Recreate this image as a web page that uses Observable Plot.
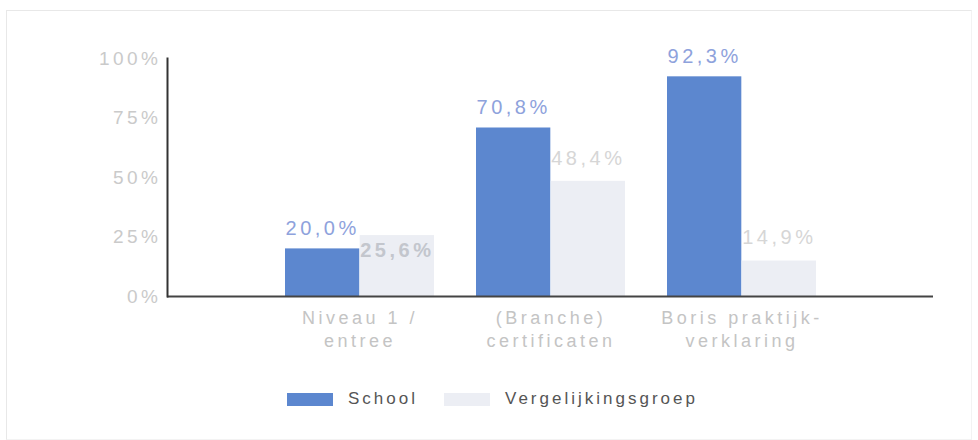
<!DOCTYPE html>
<html><head><meta charset="utf-8">
<script src="https://cdn.jsdelivr.net/npm/d3@7"></script>
<script src="https://cdn.jsdelivr.net/npm/@observablehq/plot@0.6"></script>
<style>
body{margin:0;background:#fff;font-family:"Liberation Sans",Arial,sans-serif;}
#wrap{position:relative;width:978px;height:440px;overflow:hidden;}
#border{position:absolute;left:6px;top:10px;width:964px;height:428px;border:1px solid #e8e8e8;border-right-color:#f3f3f3;border-bottom-color:#f3f3f3;}
#chart{position:absolute;left:0;top:0;}
#legend{position:absolute;left:287px;top:389px;display:flex;align-items:center;font-size:17px;letter-spacing:3px;color:#555;}
#legend .sw{width:46px;height:13px;display:inline-block;margin-right:15px;}
#legend .item{display:flex;align-items:center;margin-right:26px;}
svg text{letter-spacing:3.5px;}
</style></head><body>
<div id="wrap"><div id="border"></div><div id="chart"></div><div id="legend"></div></div>
<script>
const categories = ["Niveau 1 / entree", "(Branche) certificaten", "Boris praktijkverklaring"];
const tickLabels = ["Niveau 1 /\nentree", "(Branche)\ncertificaten", "Boris praktijk-\nverklaring"];
const series = ["School", "Vergelijkingsgroep"];
const schoolValues = [20.0, 70.8, 92.3];
const compareValues = [25.6, 48.4, 14.9];
const yTicks = [0, 25, 50, 75, 100];
const colors = ["#5c87cf", "#eceef4"];

const W = 978, H = 370, mL = 167, mR = 45, mT = 58, mB = 74;
const xOpts = {type: "band", domain: categories, paddingInner: 0.22, paddingOuter: 0.61};
const bw = Plot.scale({x: {...xOpts, range: [mL, W - mR]}}).bandwidth;

const schoolRows = categories.map((c, i) => ({category: c, series: series[0], value: schoolValues[i]}));
const compareRows = categories.map((c, i) => ({category: c, series: series[1], value: compareValues[i], other: schoolValues[i]}));
const fmt = v => v.toFixed(1).replace(".", ",") + "%";
const collides = d => d.value > d.other && d.value - d.other < 10;

const chart = Plot.plot({
  width: W, height: H, marginLeft: mL, marginRight: mR, marginTop: mT, marginBottom: mB,
  style: {fontFamily: "'Liberation Sans', Arial, sans-serif", background: "transparent"},
  x: {...xOpts, label: null},
  y: {domain: [0, 100], label: null},
  marks: [
    Plot.barY(schoolRows, {x: "category", y: "value", fill: colors[0], insetRight: bw / 2}),
    Plot.barY(compareRows, {x: "category", y: "value", fill: colors[1], insetLeft: bw / 2}),
    Plot.ruleY([0], {stroke: "#444", strokeWidth: 2}),
    Plot.frame({anchor: "left", stroke: "#333", strokeWidth: 2}),
    Plot.axisY({ticks: yTicks, tickFormat: d => d + "%", tickSize: 0, tickPadding: 6, fontSize: 19, fill: "#cacaca", label: null}),
    Plot.axisX({tickFormat: d => tickLabels[categories.indexOf(d)], tickSize: 0, tickPadding: 12, fontSize: 18, fill: "#c4c4c4", lineHeight: 1.25, label: null}),
    Plot.text(schoolRows, {x: "category", y: "value", text: d => fmt(d.value), dx: -bw / 4, dy: -20, fontSize: 20, fill: "#8ea2dc"}),
    Plot.text(compareRows.filter(d => !collides(d)), {x: "category", y: "value", text: d => fmt(d.value), dx: bw / 4, dy: -23, fontSize: 20, fill: "#d6d6d6"}),
    Plot.text(compareRows.filter(collides), {x: "category", y: "value", text: d => fmt(d.value), dx: bw / 4, dy: 15, fontSize: 20, fontWeight: "bold", fill: "#c3c6cd"})
  ]
});
document.getElementById("chart").append(chart);

const legend = document.getElementById("legend");
series.forEach((s, i) => {
  const item = document.createElement("span");
  item.className = "item";
  const sw = document.createElement("span");
  sw.className = "sw";
  sw.style.background = colors[i];
  item.append(sw, document.createTextNode(s));
  legend.append(item);
});
</script>
</body></html>
